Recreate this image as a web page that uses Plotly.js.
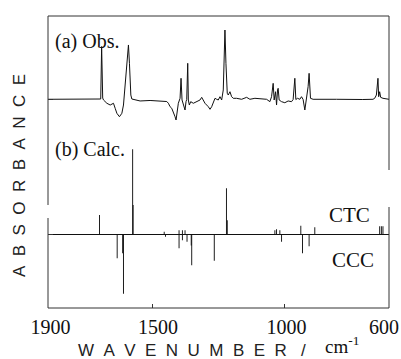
<!DOCTYPE html>
<html>
<head>
<meta charset="utf-8">
<script src="https://cdn.plot.ly/plotly-3.0.1.min.js"></script>
<style>html,body{margin:0;padding:0;background:#fff;}#chart{width:401px;height:359px;}</style>
</head>
<body>
<div id="chart"></div>
<script>
// (a) Observed spectrum
const obsWavenumber = [1900,1800,1740,1705,1699,1695.5,1691.5,1688.4,1675.5,1662.9,1650.4,1643.9,1637.5,1627.6,1618.4,1612.3,1605.9,1599.4,1593.3,1589.5,1584.2,1580.4,1561.4,1548.8,1510.8,1472.8,1447.2,1441.1,1434.6,1428.2,1422.1,1415.6,1411.8,1406.9,1403.1,1396.6,1392.8,1389.0,1384.0,1377.6,1373.8,1371.1,1367.3,1365.0,1361.2,1355.9,1346.0,1333.1,1320.5,1314.0,1310.2,1301.5,1288.9,1282.4,1276.0,1269.9,1263.4,1257.0,1250.9,1244.4,1237.9,1231.8,1228.0,1225.4,1221.6,1216.6,1212.8,1206.3,1199.9,1193.8,1180.9,1168.3,1161.8,1142.8,1130.2,1111.2,1085.7,1066.7,1054.1,1047.7,1041.6,1037.8,1032.5,1028.7,1024.8,1022.6,1018.8,1009.6,997.1,984.5,971.6,965.5,959.0,955.2,948.7,940.0,933.5,927.4,920.9,914.5,908.4,904.6,899.3,889.4,850,800,700,661.1,654.6,648.1,642.1,639.4,635.6,631.8,623.0,610.1,600];
const obsAbsorbance = [0.003,0.000,0.000,0.000,0.007,0.757,0.021,-0.007,-0.054,-0.079,-0.054,-0.126,-0.197,-0.246,-0.197,-0.079,0.183,0.517,0.779,0.517,0.064,0.007,-0.007,-0.021,-0.014,-0.021,-0.029,-0.054,-0.103,-0.126,-0.174,-0.246,-0.293,-0.150,-0.054,0.017,0.303,-0.007,-0.079,-0.150,-0.031,0.000,0.517,-0.007,-0.079,-0.031,-0.054,-0.031,-0.007,0.031,0.003,-0.054,-0.103,-0.140,-0.103,-0.031,0.017,0.003,-0.007,0.040,-0.007,0.136,0.517,0.993,0.517,0.089,0.064,0.111,0.040,0.017,0.017,0.003,0.003,0.031,0.003,0.017,0.007,0.003,-0.031,0.040,0.231,-0.007,0.111,-0.079,0.136,0.160,-0.007,-0.031,-0.046,-0.021,-0.031,0.000,0.303,0.000,0.017,0.003,0.040,0.000,-0.150,0.000,0.183,0.374,0.017,0.003,0.000,0.003,0.000,0.003,0.017,0.064,0.303,0.040,0.111,0.031,0.017,0.003,0.003];

// (b) Calculated spectrum: CTC (upward) and CCC (downward)
const ctcWavenumber = [1703.7,1577.3,1575.5,1457,1400.4,1387.6,1377.6,1219.7,1216.6,1035.1,1028.7,1016.1,936.2,882.9,635.6,629.1,623.0];
const ctcIntensity  = [0.224,0.99,0.34,0.03,0.047,0.047,0.047,0.535,0.163,0.047,0.058,0.047,0.10,0.081,0.093,0.093,0.093];
const cccWavenumber = [1636.3,1615.4,1612.3,1452,1400.4,1387.6,1370,1354,1352.1,1266.1,1009.6,929.7,904.6];
const cccIntensity  = [0.279,0.22,0.69,0.03,0.163,0.07,0.087,0.13,0.36,0.308,0.087,0.221,0.14];

const xTickVals = [1900,1500,1000,600];
const xTickText = ['\u00a0\u00a0\u00a01900','\u00a0\u00a0\u00a0\u00a01500','\u00a0\u00a0\u00a01000','600'];
const panelLabels = ['(a) Obs.','(b) Calc.'];
const speciesLabels = ['CTC','CCC'];

const W = 401, H = 359, mL = 48, mR = 12, mT = 16, mB = 51;
const pw = W - mL - mR, ph = H - mT - mB;
const px = x => (x - mL) / pw;
const py = y => (H - mB - y) / ph;

const ink = '#111';
const traces = [
  {type:'scatter', mode:'lines', x: obsWavenumber, y: obsAbsorbance, yaxis:'y2',
   line:{color: ink, width:1}, hoverinfo:'skip'},
  {type:'bar', x: ctcWavenumber, y: ctcIntensity, width: 3.6,
   marker:{color: ink, line:{width:0}}, hoverinfo:'skip'},
  {type:'bar', x: cccWavenumber, y: cccIntensity.map(v => -v), width: 3.6,
   marker:{color: ink, line:{width:0}}, hoverinfo:'skip'}
];

const frame = '#333';
const seg = (x0,y0,x1,y1) => ({type:'line', xref:'paper', yref:'paper', x0, y0, x1, y1, line:{color: frame, width:1}});

const sansTitle = {family:'Liberation Sans, Arial, sans-serif', size:17, color:'#222'};
const serif = {family:'Liberation Serif, Times New Roman, serif', color:'#111'};
const spaced = s => s.split('').join('\u00a0\u00a0');

const layout = {
  width: W, height: H,
  margin:{l:mL, r:mR, t:mT, b:mB, pad:0},
  paper_bgcolor:'#fff', plot_bgcolor:'#fff',
  showlegend:false, barmode:'overlay',
  xaxis:{range:[1900,600], tickvals: xTickVals, ticktext: xTickText,
         ticks:'inside', ticklen:4, tickcolor:frame, showgrid:false, zeroline:false, showline:false,
         ticklabeloverflow:'allow', ticklabelstandoff:5, ticklabelshift:5,
         tickfont:Object.assign({size:20}, serif), automargin:false, fixedrange:true},
  yaxis:{range:[-0.857, 2.538], showgrid:false, zeroline:true, zerolinecolor: ink, zerolinewidth:1,
         tickvals:[0], ticks:'inside', ticklen:5, tickcolor:frame, showticklabels:false, showline:false,
         automargin:false, fixedrange:true},
  yaxis2:{overlaying:'y', side:'left', range:[-2.979, 1.193], showgrid:false, zeroline:false,
         tickvals:[0], ticks:'inside', ticklen:5, tickcolor:frame, showticklabels:false, showline:false,
         automargin:false, fixedrange:true},
  shapes:[
    seg(0,1,1,1), seg(0,0,1,0),
    seg(0,1,0,py(205)), seg(0,py(218),0,0),
    seg(1,1,1,py(170)), seg(1,py(207),1,0)
  ],
  annotations:[
    {xref:'paper', yref:'paper', x:px(53), y:py(41), xanchor:'left', yanchor:'middle', showarrow:false,
     text: panelLabels[0], font:Object.assign({size:20}, serif)},
    {xref:'paper', yref:'paper', x:px(53), y:py(149), xanchor:'left', yanchor:'middle', showarrow:false,
     text: panelLabels[1], font:Object.assign({size:20}, serif)},
    {xref:'paper', yref:'paper', x:px(349), y:py(214.5), xanchor:'center', yanchor:'middle', showarrow:false,
     text: speciesLabels[0], font:Object.assign({size:21}, serif)},
    {xref:'paper', yref:'paper', x:px(352.5), y:py(259.5), xanchor:'center', yanchor:'middle', showarrow:false,
     text: speciesLabels[1], font:Object.assign({size:21}, serif)},
    {xref:'paper', yref:'paper', x:px(76), y:py(350), xanchor:'left', yanchor:'middle', showarrow:false,
     text: spaced('WAVENUMBER') + '\u00a0\u00a0\u00a0/', font: sansTitle},
    {xref:'paper', yref:'paper', x:px(323), y:py(359), xanchor:'left', yanchor:'bottom', showarrow:false,
     text: 'cm<sup>-1</sup>', font:Object.assign({size:19}, serif)},
    {xref:'paper', yref:'paper', x:px(19), y:py(176), xanchor:'center', yanchor:'middle', showarrow:false,
     textangle:-90, text: spaced('ABSORBANCE'), font: sansTitle}
  ]
};

Plotly.newPlot('chart', traces, layout, {staticPlot:true, displayModeBar:false});
</script>
</body>
</html>
